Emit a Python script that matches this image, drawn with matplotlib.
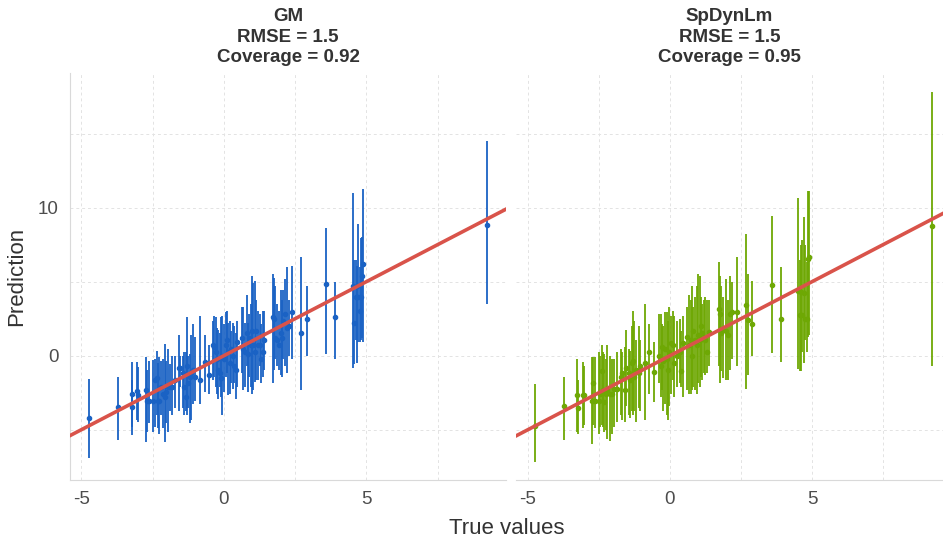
import numpy as np
import matplotlib.pyplot as plt
from matplotlib.ticker import MultipleLocator

plt.rcParams['font.family'] = ['Liberation Sans', 'DejaVu Sans']
plt.rcParams['axes.unicode_minus'] = False

# GM: true value, prediction, upper and lower bound
gm_x = [-4.72, -3.72, -3.23, -3.22, -3.06, -3.01, -2.74, -2.70, -2.63, -2.47,
        -2.41, -2.36, -2.31, -2.26, -2.20, -2.12, -2.08, -2.02, -1.97, -1.90,
        -1.83, -1.73, -1.57, -1.53, -1.43, -1.39, -1.34, -1.29, -1.25, -1.20,
        -1.14, -1.08, -1.03, -0.85, -0.67, -0.53, -0.38, -0.34, -0.29, -0.25,
        -0.20, -0.15, -0.11, -0.06, 0.00, 0.07, 0.12, 0.16, 0.21, 0.26,
        0.31, 0.35, 0.42, 0.47, 0.63, 0.68, 0.73, 0.80, 0.85, 0.89,
        0.94, 0.99, 1.03, 1.08, 1.13, 1.18, 1.27, 1.32, 1.36, 1.41,
        1.72, 1.76, 1.81, 1.86, 1.93, 2.00, 2.04, 2.09, 2.16, 2.23,
        2.28, 2.39, 2.70, 2.91, 3.60, 3.91, 4.54, 4.58, 4.62, 4.67,
        4.71, 4.76, 4.81, 4.84, 4.89, 9.24]
gm_pred = [-4.22, -3.47, -2.62, -3.47, -2.41, -2.69, -2.34, -3.04, -3.04, -3.04,
           -1.64, -1.52, -3.04, -3.04, -2.11, -2.58, -2.81, -2.46, -2.11, -2.11,
           -2.11, -1.64, -0.82, -0.82, -1.17, -2.11, -2.81, -0.70, -1.87, -1.41,
           -1.17, -0.94, -1.41, -1.64, -0.42, -1.29, 0.70, 0.59, 0.23, -0.23,
           -0.94, -1.17, -1.52, 0.00, -0.23, 0.70, 1.05, 0.23, -0.47, 0.47,
           0.00, -0.70, -0.94, 0.94, 1.17, 0.47, 0.23, 1.52, 0.12, 1.17,
           0.70, 1.64, 0.70, 0.23, 1.64, 0.70, 0.70, -0.23, 0.23, 1.05,
           2.58, 2.46, 1.17, 1.05, 0.70, 1.52, 1.17, 2.34, 2.81, 1.87,
           1.99, 2.93, 1.52, 2.46, 4.85, 2.62, 4.68, 2.22, 3.98, 4.68,
           3.98, 3.04, 3.98, 5.39, 6.21, 8.83]
gm_hi = [-1.57, -1.45, -0.40, -1.64, -0.42, -0.75, -0.12, -0.94, -0.35, -0.28,
         -0.23, 0.35, -0.47, -0.12, -0.35, -0.23, 0.82, -0.35, 0.47, -0.59,
         0.00, 0.00, 1.41, 0.00, 0.00, 0.23, 0.23, 2.58, 0.00, 0.12,
         1.41, 2.11, 1.29, 2.69, 1.41, 0.70, 2.34, 2.69, 2.58, 1.87,
         1.76, 1.52, 2.58, 2.69, 2.11, 2.93, 3.04, 2.22, 2.34, 1.64,
         2.22, 1.99, 1.52, 2.34, 3.28, 3.28, 2.22, 4.10, 2.22, 2.81,
         3.51, 5.39, 4.92, 5.04, 3.75, 3.04, 2.81, 2.11, 3.04, 3.04,
         5.50, 5.27, 4.68, 3.51, 3.04, 4.45, 3.75, 4.45, 5.15, 5.97,
         3.75, 6.09, 6.67, 4.68, 8.62, 4.96, 10.96, 6.44, 6.44, 6.09,
         8.90, 5.97, 7.96, 8.00, 11.24, 14.52]
gm_lo = [-6.91, -5.67, -4.85, -5.39, -4.33, -4.50, -5.85, -5.15, -4.57, -5.15,
         -4.80, -3.98, -4.92, -5.27, -3.98, -4.92, -5.85, -4.57, -5.15, -3.75,
         -3.98, -3.51, -3.75, -2.11, -3.51, -3.98, -3.75, -3.98, -3.51, -4.57,
         -4.33, -3.28, -3.04, -3.28, -2.46, -2.58, -1.64, -1.41, -2.11, -2.58,
         -2.93, -2.11, -2.81, -3.98, -2.46, -1.41, -1.17, -2.69, -2.58, -1.87,
         -2.22, -1.87, -2.93, -2.11, -1.17, -2.34, -2.11, -0.70, -2.46, -1.41,
         -2.11, -2.58, -2.34, -1.76, -1.64, -1.64, -0.70, -1.87, -1.41, -0.94,
         -1.87, -0.94, -0.23, -0.70, -0.94, -1.29, -1.41, -0.23, -0.70, -1.17,
         0.00, -0.23, -2.34, 0.00, 0.12, -0.23, -0.82, -0.59, 1.05, -0.47,
         0.94, 0.94, 1.05, 1.17, 0.94, 3.51]

# SpDynLm
sp_x = [-4.75, -3.74, -3.26, -3.25, -3.07, -3.04, -2.75, -2.72, -2.65, -2.51,
        -2.47, -2.41, -2.35, -2.32, -2.26, -2.21, -2.12, -2.05, -1.98, -1.88,
        -1.74, -1.69, -1.58, -1.55, -1.44, -1.39, -1.34, -1.29, -1.25, -1.18,
        -1.08, -1.04, -0.87, -0.73, -0.55, -0.38, -0.33, -0.28, -0.24, -0.19,
        -0.12, -0.07, -0.02, 0.05, 0.09, 0.14, 0.24, 0.35, 0.40, 0.45,
        0.59, 0.66, 0.73, 0.78, 0.82, 0.87, 0.94, 0.99, 1.04, 1.08,
        1.13, 1.18, 1.25, 1.32, 1.39, 1.72, 1.76, 1.81, 1.88, 1.98,
        2.05, 2.12, 2.19, 2.35, 2.68, 2.73, 2.89, 3.59, 3.91, 4.52,
        4.56, 4.61, 4.66, 4.71, 4.76, 4.81, 4.85, 4.89, 9.24]
sp_pred = [-4.73, -3.40, -2.69, -3.51, -2.69, -2.69, -3.04, -1.87, -3.04, -3.04,
           -2.58, -1.05, -2.34, -3.16, -2.58, -2.34, -2.58, -2.58, -2.22, -2.22,
           -1.41, -1.17, -2.34, -0.82, -1.17, -1.64, -0.47, -0.35, -1.41, -0.94,
           -1.17, -0.70, -0.47, 0.23, -1.12, 0.00, -0.70, 0.59, -0.35, 0.47,
           -0.23, -0.94, 0.23, 0.87, 0.70, -0.47, 0.00, 0.23, -1.05, 0.87,
           1.29, 0.70, 1.05, 0.00, 1.64, 1.05, 0.70, 1.41, 1.05, 1.99,
           1.52, 1.17, 1.05, 0.23, 1.57, 3.16, 2.81, 1.52, 1.76, 1.64,
           1.41, 2.81, 2.93, 2.93, 3.40, 2.41, 2.11, 4.75, 2.46, 4.38,
           2.74, 4.33, 2.74, 4.26, 2.46, 2.46, 6.56, 6.67, 8.78]
sp_hi = [-1.92, -1.41, -0.23, -1.64, -0.40, -0.70, -0.12, -0.12, -0.12, 0.23,
         0.00, 0.70, 0.23, 0.12, -0.23, 0.70, 0.00, -0.23, -0.23, 0.23,
         0.47, 0.23, 0.59, 1.76, 0.47, 0.35, 1.99, 3.04, 2.34, 1.05,
         1.99, 1.05, 3.51, 2.11, 0.94, 2.81, 2.81, 2.11, 1.99, 2.93,
         2.93, 2.34, 3.28, 2.69, 3.04, 2.69, 2.34, 2.46, 1.64, 2.69,
         3.28, 4.10, 3.75, 4.68, 3.28, 3.98, 4.68, 5.50, 5.39, 3.98,
         3.51, 3.75, 3.98, 3.75, 3.75, 6.32, 5.39, 4.68, 3.98, 5.15,
         3.75, 5.39, 5.00, 6.67, 8.20, 5.50, 5.04, 9.41, 6.02, 10.66,
         6.44, 7.49, 7.85, 9.37, 7.49, 6.32, 11.12, 11.12, 17.80]
sp_lo = [-7.21, -5.67, -5.15, -5.27, -4.92, -4.68, -5.97, -4.68, -4.92, -5.27,
         -4.80, -4.68, -4.80, -5.15, -5.04, -5.62, -5.74, -5.27, -4.80, -4.45,
         -3.98, -4.33, -4.45, -3.40, -3.98, -4.22, -3.75, -3.98, -3.75, -4.45,
         -3.51, -3.75, -4.33, -2.58, -3.16, -1.87, -2.81, -2.34, -3.75, -3.28,
         -3.98, -4.33, -3.40, -2.58, -1.64, -2.81, -2.11, -1.87, -2.11, -2.81,
         -2.34, -2.58, -2.58, -2.34, -2.11, -2.34, -2.58, -1.87, -2.11, -1.41,
         -1.64, -1.17, -1.29, -1.17, -0.70, -0.70, -1.87, -1.05, -1.52, -1.64,
         -1.64, -0.94, -0.23, -0.70, -2.22, -1.29, 0.00, 0.16, -0.40, -0.89,
         -1.05, -1.05, 0.23, -0.47, 1.05, 0.23, 1.29, 1.41, -0.70]

panels = [
    ("GM\nRMSE = 1.5\nCoverage = 0.92", gm_x, gm_pred, gm_lo, gm_hi, "#1a62c4", (-5.4, 9.9)),
    ("SpDynLm\nRMSE = 1.5\nCoverage = 0.95", sp_x, sp_pred, sp_lo, sp_hi, "#6ea804", (-5.42, 9.61)),
]

fig = plt.figure(figsize=(9.43, 5.42), dpi=100)
ax1 = fig.add_axes([70/943, 62/542, 436/943, 407/542])
ax2 = fig.add_axes([516/943, 62/542, 427/943, 407/542])

for ax, (title, x, y, lo, hi, col, xlim) in zip([ax1, ax2], panels):
    ax.vlines(x, lo, hi, color=col, lw=1.3, zorder=2)
    ax.plot(x, y, 'o', color=col, ms=3, zorder=3)
    ax.axline((0, 0), slope=1, color="#d9534a", lw=2.6, zorder=4)
    ax.set_xlim(*xlim)
    ax.set_ylim(-8.4, 19.1)
    ax.xaxis.set_major_locator(MultipleLocator(5))
    ax.xaxis.set_minor_locator(MultipleLocator(2.5))
    ax.yaxis.set_major_locator(MultipleLocator(10))
    ax.yaxis.set_minor_locator(MultipleLocator(5))
    ax.grid(True, which='both', color="#e3e3e3", ls=(0, (3, 3)), lw=0.7)
    ax.set_axisbelow(True)
    for s in ['top', 'right', 'left']:
        ax.spines[s].set_visible(False)
    ax.spines['bottom'].set_color("#d9d9d9")
    ax.tick_params(which='both', length=0, labelsize=13.5, labelcolor="#4d4d4d", pad=8)
    ax.set_title(title, fontsize=13.5, fontweight='bold', color="#333333", linespacing=1.25, pad=8)

ax1.spines['left'].set_visible(True)
ax1.spines['left'].set_color("#d9d9d9")
ax2.tick_params(axis='y', labelleft=False)
ax1.set_ylabel("Prediction", fontsize=16, color="#333333", labelpad=8)
fig.text(507/943, 0.015, "True values", ha='center', fontsize=16, color="#333333")

fig.savefig("out.png", dpi=100)
